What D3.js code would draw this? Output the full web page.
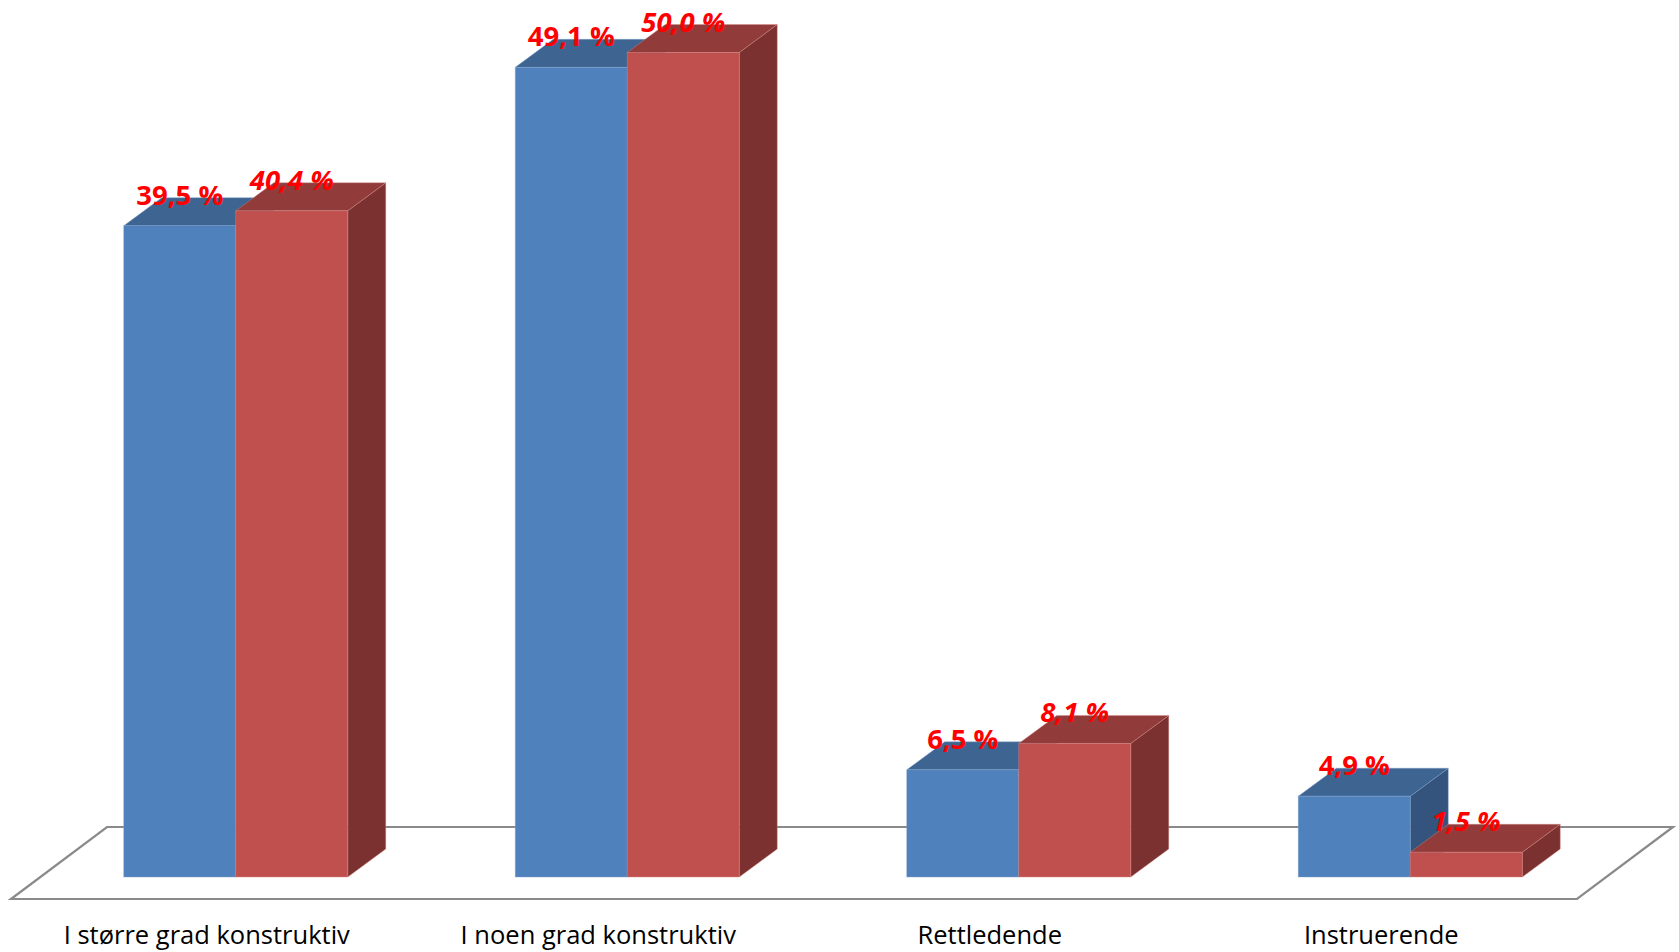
<!DOCTYPE html>
<html>
<head>
<meta charset="utf-8">
<script src="https://cdn.jsdelivr.net/npm/d3@7"></script>
<style>
  html, body { margin: 0; padding: 0; background: #ffffff; }
  svg { display: block; }
</style>
</head>
<body>
<svg id="chart" width="1679" height="952"></svg>
<script>
// ---- data ----
const categories = ["I større grad konstruktiv", "I noen grad konstruktiv", "Rettledende", "Instruerende"];
const seriesNames = ["Serie 1", "Serie 2"];
const series1 = [39.5, 49.1, 6.5, 4.9];
const series2 = [40.4, 50.0, 8.1, 1.5];
const valueLabels1 = ["39,5 %", "49,1 %", "6,5 %", "4,9 %"];
const valueLabels2 = ["40,4 %", "50,0 %", "8,1 %", "1,5 %"];

// ---- styles ----
const colors = [
  { front: "#4F81BD", top: "#3E6592", side: "#34547D", edge: "#7FA3D0" },
  { front: "#C0504D", top: "#913C3B", side: "#7B3130", edge: "#D88987" }
];
const labelStyle = [
  { italic: false },
  { italic: true }
];

// ---- geometry ----
const svg = d3.select("#chart");
const floorY = 899, floorX0 = 11, floorX1 = 1577;
const floorDepth = { dx: 96, dy: -72 };
const barShift = { dx: 29, dy: -22 };
const barDepth = { dx: 38, dy: -28 };
const baseY = floorY + barShift.dy; // 877

const x = d3.scaleBand()
  .domain(categories)
  .range([floorX0 + barShift.dx, floorX1 + barShift.dx])
  .paddingInner(0.4278)
  .paddingOuter(0.2139);

const xs = d3.scaleBand()
  .domain(seriesNames)
  .range([0, x.bandwidth()]);

const y = d3.scaleLinear()
  .domain([0, 50])
  .range([baseY, baseY - 16.49 * 50]);

// ---- floor ----
const floorPts = [
  [floorX0, floorY],
  [floorX1, floorY],
  [floorX1 + floorDepth.dx, floorY + floorDepth.dy],
  [floorX0 + floorDepth.dx, floorY + floorDepth.dy]
];
svg.append("path")
  .attr("d", d3.line()(floorPts) + "Z")
  .attr("fill", "#ffffff")
  .attr("stroke", "#8a8a8a")
  .attr("stroke-width", 2.2)
  .attr("stroke-linejoin", "miter");

// ---- bars ----
const allSeries = [series1, series2];
const allLabels = [valueLabels1, valueLabels2];

categories.forEach((cat, i) => {
  allSeries.forEach((vals, s) => {
    const v = vals[i];
    const x0 = x(cat) + xs(seriesNames[s]);
    const x1 = x0 + xs.bandwidth();
    const yt = y(v), yb = y(0);
    const c = colors[s];
    const g = svg.append("g");
    // side face
    g.append("path")
      .attr("d", d3.line()([[x1, yb], [x1 + barDepth.dx, yb + barDepth.dy], [x1 + barDepth.dx, yt + barDepth.dy], [x1, yt]]) + "Z")
      .attr("fill", c.side)
      .attr("stroke", c.edge).attr("stroke-width", 0.8).attr("stroke-opacity", 0.5);
    // top face
    g.append("path")
      .attr("d", d3.line()([[x0, yt], [x1, yt], [x1 + barDepth.dx, yt + barDepth.dy], [x0 + barDepth.dx, yt + barDepth.dy]]) + "Z")
      .attr("fill", c.top)
      .attr("stroke", c.edge).attr("stroke-width", 0.8).attr("stroke-opacity", 0.5);
    // front face
    g.append("rect")
      .attr("x", x0).attr("y", yt)
      .attr("width", x1 - x0).attr("height", yb - yt)
      .attr("fill", c.front)
      .attr("stroke", c.edge).attr("stroke-width", 0.8).attr("stroke-opacity", 0.5);
  });
});

// ---- value labels ----
categories.forEach((cat, i) => {
  allSeries.forEach((vals, s) => {
    const x0 = x(cat) + xs(seriesNames[s]);
    svg.append("text")
      .attr("x", x0 + xs.bandwidth() / 2)
      .attr("y", y(vals[i]) - 21)
      .attr("text-anchor", "middle")
      .attr("font-family", "'Open Sans', sans-serif")
      .attr("font-weight", "bold")
      .attr("font-style", labelStyle[s].italic ? "italic" : "normal")
      .attr("font-size", 27.5)
      .attr("fill", "#FF0000")
      .text(allLabels[s][i]);
  });
});

// ---- category labels ----
svg.append("g").selectAll("text")
  .data(categories)
  .join("text")
  .attr("x", d => x(d) + x.bandwidth() / 2 - barShift.dx)
  .attr("y", 944)
  .attr("text-anchor", "middle")
  .attr("font-family", "'Open Sans', sans-serif")
  .attr("font-size", 25.5)
  .attr("fill", "#000000")
  .text(d => d);
</script>
</body>
</html>
